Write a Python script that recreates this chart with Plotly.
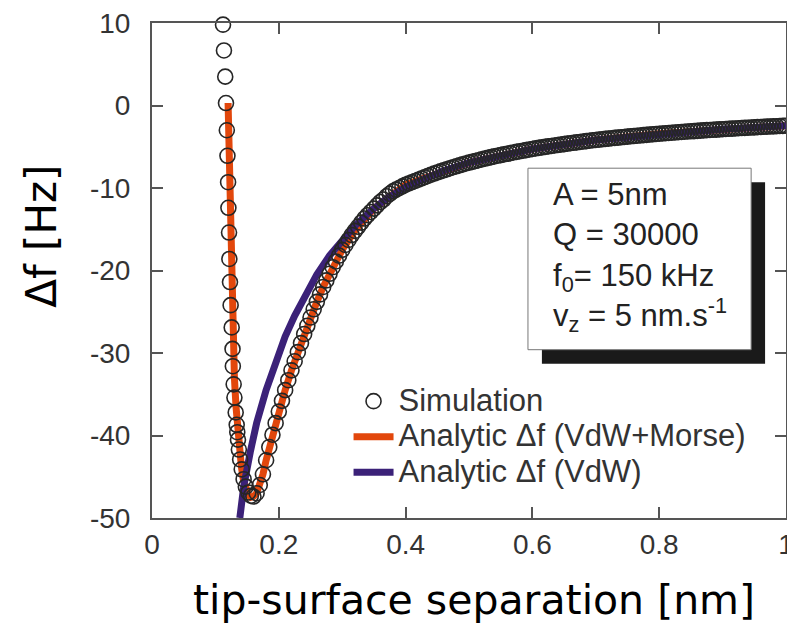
import plotly.graph_objects as go

# ---------------- data ----------------
# Simulation (open circles): approach branch then retract/right branch
sim_x = [0.112, 0.1135, 0.1155, 0.1167, 0.118, 0.119, 0.120, 0.1205, 0.1215, 0.122,
         0.123, 0.124, 0.1257, 0.127, 0.1275, 0.1288, 0.130, 0.132, 0.1336, 0.1345,
         0.1356, 0.137, 0.139, 0.1415, 0.1445, 0.148, 0.152, 0.156,
         0.160, 0.165, 0.170, 0.175, 0.180, 0.185, 0.190, 0.195, 0.200, 0.205,
         0.210, 0.215, 0.220, 0.225, 0.230, 0.235, 0.240, 0.245, 0.250, 0.255,
         0.260, 0.265, 0.270, 0.275, 0.280, 0.285, 0.290, 0.295, 0.300, 0.305,
         0.310, 0.315, 0.320, 0.325, 0.330, 0.335, 0.340, 0.345, 0.350, 0.355,
         0.360, 0.365, 0.370, 0.375, 0.380, 0.385, 0.390, 0.395, 0.400, 0.405,
         0.410, 0.415, 0.420, 0.425, 0.430, 0.435, 0.440, 0.445, 0.450, 0.455,
         0.460, 0.465, 0.470, 0.475, 0.480, 0.485, 0.490, 0.495, 0.500, 0.505,
         0.510, 0.515, 0.520, 0.525, 0.530, 0.535, 0.540, 0.545, 0.550, 0.555,
         0.560, 0.565, 0.570, 0.575, 0.580, 0.585, 0.590, 0.595, 0.600, 0.605,
         0.610, 0.615, 0.620, 0.625, 0.630, 0.635, 0.640, 0.645, 0.650, 0.655,
         0.660, 0.665, 0.670, 0.675, 0.680, 0.685, 0.690, 0.695, 0.700, 0.705,
         0.710, 0.715, 0.720, 0.725, 0.730, 0.735, 0.740, 0.745, 0.750, 0.755,
         0.760, 0.765, 0.770, 0.775, 0.780, 0.785, 0.790, 0.795, 0.800, 0.805,
         0.810, 0.815, 0.820, 0.825, 0.830, 0.835, 0.840, 0.845, 0.850, 0.855,
         0.860, 0.865, 0.870, 0.875, 0.880, 0.885, 0.890, 0.895, 0.900, 0.905,
         0.910, 0.915, 0.920, 0.925, 0.930, 0.935, 0.940, 0.945, 0.950, 0.955,
         0.960, 0.965, 0.970, 0.975, 0.980, 0.985, 0.990, 0.995, 1.000]
sim_y = [9.8, 6.67, 3.5, 0.3, -3.0, -6.1, -9.3, -12.4, -15.4, -18.6,
         -21.4, -24.2, -26.9, -29.5, -31.6, -33.8, -35.4, -37.2, -38.7, -39.6,
         -40.5, -41.7, -42.9, -44.1, -45.3, -46.2, -46.9, -47.3,
         -47.4, -47.0, -46.0, -44.7, -43.0, -41.4, -39.9, -38.5, -37.1, -35.8,
         -34.5, -33.3, -32.1, -31.0, -29.9, -28.8, -27.7, -26.7, -25.7, -24.7,
         -23.8, -22.9, -22.0, -21.2, -20.4, -19.6, -18.9, -18.2, -17.5, -16.9,
         -16.3, -15.7, -15.2, -14.7, -14.2, -13.7, -13.3, -12.9, -12.5, -12.1,
         -11.7, -11.4, -11.0, -10.7, -10.4, -10.2, -10.0, -9.8, -9.6, -9.45,
         -9.3, -9.15, -9.0, -8.84, -8.69, -8.54, -8.39, -8.25, -8.12, -7.98,
         -7.85, -7.73, -7.6, -7.48, -7.37, -7.25, -7.14, -7.03, -6.93, -6.83,
         -6.73, -6.63, -6.53, -6.44, -6.35, -6.26, -6.17, -6.09, -6.01, -5.93,
         -5.85, -5.77, -5.69, -5.62, -5.55, -5.48, -5.41, -5.34, -5.27, -5.2,
         -5.14, -5.08, -5.02, -4.96, -4.9, -4.84, -4.79, -4.73, -4.68, -4.62,
         -4.57, -4.52, -4.47, -4.42, -4.37, -4.32, -4.27, -4.22, -4.18, -4.14,
         -4.1, -4.05, -4.01, -3.97, -3.93, -3.89, -3.85, -3.81, -3.77, -3.73,
         -3.7, -3.66, -3.63, -3.59, -3.56, -3.52, -3.49, -3.45, -3.42, -3.39,
         -3.36, -3.33, -3.3, -3.27, -3.24, -3.21, -3.18, -3.15, -3.13, -3.1,
         -3.07, -3.04, -3.02, -2.99, -2.97, -2.94, -2.92, -2.89, -2.87, -2.84,
         -2.82, -2.8, -2.78, -2.75, -2.73, -2.71, -2.69, -2.67, -2.65, -2.62,
         -2.6, -2.58, -2.56, -2.54, -2.53, -2.51, -2.49, -2.47, -2.45]

# Analytic (VdW + Morse)
morse_x = [0.120, 0.1215, 0.123, 0.1245, 0.126, 0.128, 0.130, 0.1325, 0.135, 0.138,
           0.141, 0.144, 0.148, 0.152, 0.156, 0.160, 0.165, 0.170, 0.175, 0.180,
           0.190, 0.200, 0.210, 0.220, 0.230, 0.240, 0.250, 0.260, 0.270, 0.280,
           0.300, 0.320, 0.350, 0.400, 0.500, 0.600, 0.700, 0.800, 0.900, 1.000]
morse_y = [0.3, -6.0, -12.0, -18.0, -24.0, -29.0, -33.0, -36.5, -39.3, -41.8,
           -43.8, -45.3, -46.5, -47.2, -47.5, -47.4, -47.0, -46.0, -44.7, -43.0,
           -39.9, -37.1, -34.5, -32.1, -29.9, -27.7, -25.7, -23.8, -22.0, -20.4,
           -17.5, -15.2, -12.5, -9.6, -6.93, -5.27, -4.18, -3.42, -2.87, -2.45]

# Analytic (VdW only)
vdw_x = [0.1385, 0.145, 0.155, 0.165, 0.180, 0.195, 0.210, 0.225, 0.240, 0.260,
         0.280, 0.300, 0.320, 0.345, 0.370, 0.400, 0.430, 0.460, 0.500, 0.600,
         0.700, 0.800, 0.900, 1.000]
vdw_y = [-50.0, -46.0, -42.0, -38.5, -34.5, -31.0, -28.0, -25.5, -23.2, -20.5,
         -18.2, -16.3, -14.6, -12.8, -11.3, -9.9, -8.8, -7.9, -6.93, -5.27,
         -4.18, -3.42, -2.87, -2.45]

x_ticks = [0, 0.2, 0.4, 0.6, 0.8, 1]
x_ticktext = ["0", "0.2", "0.4", "0.6", "0.8", "1"]
y_ticks = [10, 0, -10, -20, -30, -40, -50]
y_ticktext = ["10", "0", "-10", "-20", "-30", "-40", "-50"]

names = ["Simulation", "Analytic \u0394f (VdW+Morse)", "Analytic \u0394f (VdW)"]
params_text = ("A = 5nm<br>Q = 30000<br>f<sub>0</sub>= 150 kHz<br>"
               "v<sub>z</sub> = 5 nm.s<sup>-1</sup>")

# ---------------- figure ----------------
ORANGE = "#e2470c"
PURPLE = "#3b2178"
AX = "#555555"


def big(s):
    return '<span style="font-size:31px">' + s + '</span>'


fig = go.Figure()
fig.add_trace(go.Scatter(x=morse_x, y=morse_y, mode="lines", name=big(names[1]),
                         line=dict(color=ORANGE, width=7), legendrank=2))
fig.add_trace(go.Scatter(x=vdw_x, y=vdw_y, mode="lines", name=big(names[2]),
                         line=dict(color=PURPLE, width=7), legendrank=3))
fig.add_trace(go.Scatter(x=sim_x, y=sim_y, mode="markers", name=big(names[0]),
                         marker=dict(symbol="circle-open", size=15, color="#262626",
                                     line=dict(width=1.6)),
                         cliponaxis=False, legendrank=1))

# the page body adds an 8px margin, so the figure is 8px smaller than the window
fig.update_layout(
    width=787, height=618, autosize=False,
    margin=dict(l=144, r=9, t=15, b=108, autoexpand=False),
    paper_bgcolor="white", plot_bgcolor="white",
    font=dict(family="Liberation Sans, Arial, sans-serif", color="#333333"),
    showlegend=True,
    legend=dict(x=0.31, y=0.282, xanchor="left", yanchor="top",
                bgcolor="rgba(0,0,0,0)", borderwidth=0,
                font=dict(family="Liberation Sans, Arial, sans-serif", size=25, color="#333333"),
                itemwidth=40, tracegroupgap=0),
)
fig.update_xaxes(range=[0, 1], tickvals=x_ticks, ticktext=x_ticktext,
                 ticks="inside", ticklen=11, tickwidth=1.5, tickcolor=AX,
                 showline=True, linecolor=AX, linewidth=2, mirror="ticks",
                 showgrid=False, zeroline=False, automargin=False,
                 ticklabeloverflow="allow",
                 tickfont=dict(size=28, color="#333333"), ticklabelstandoff=0)
fig.update_yaxes(range=[-50, 10], tickvals=y_ticks, ticktext=y_ticktext,
                 ticks="inside", ticklen=11, tickwidth=1.5, tickcolor=AX,
                 showline=True, linecolor=AX, linewidth=2, mirror="ticks",
                 showgrid=False, zeroline=False, automargin=False,
                 ticklabeloverflow="allow",
                 tickfont=dict(size=28, color="#333333"), ticklabelstandoff=14)

# parameter box with drop shadow
fig.add_shape(type="rect", xref="x", yref="y", x0=0.615, x1=0.967, y0=-31.3, y1=-9.3,
              fillcolor="#1a1a1a", line=dict(width=0), layer="above")
fig.add_shape(type="rect", xref="x", yref="y", x0=0.593, x1=0.945, y0=-29.6, y1=-7.6,
              fillcolor="white", line=dict(color="#777777", width=1), layer="above")
fig.add_annotation(xref="x", yref="y", x=0.63, y=-18.4, xanchor="left", yanchor="middle",
                   align="left", showarrow=False, text=params_text,
                   font=dict(family="Liberation Sans, Arial, sans-serif", size=31, color="#222222"))

# axis titles
fig.add_annotation(xref="paper", yref="paper", x=0.508, y=-0.166, xanchor="center",
                   yanchor="middle", showarrow=False, text="tip-surface separation [nm]",
                   font=dict(family="DejaVu Sans", size=41, color="black"))
fig.add_annotation(xref="paper", yref="paper", x=-0.1735, y=0.568, xanchor="center",
                   yanchor="middle", showarrow=False, text="\u0394f [Hz]", textangle=-90,
                   font=dict(family="DejaVu Sans", size=42, color="black"))

fig.write_html("out.html")
